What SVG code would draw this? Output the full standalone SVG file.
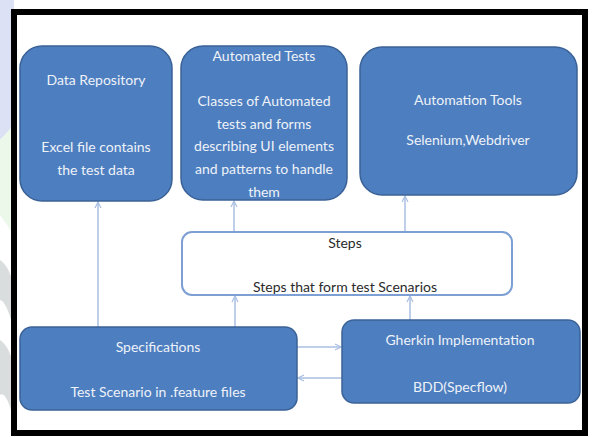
<svg xmlns="http://www.w3.org/2000/svg" width="592" height="437" viewBox="0 0 592 437">
  <defs>
    <style>
      .node { fill: #4d7ebf; stroke: #3b6297; stroke-width: 1.5; }
      .plain { fill: #ffffff; stroke: #7d9fd3; stroke-width: 2; }
      .lbl { font-family: Lato, "Noto Sans", sans-serif; font-size: 14px; fill: #eef2f9; text-anchor: middle; }
      .dark { fill: #2b2b2b; }
      .edge { stroke: #aabfe2; stroke-width: 1.5; fill: none; marker-end: url(#arrow); }
    </style>
    <marker id="arrow" viewBox="0 0 10 10" refX="9" refY="5" markerWidth="5" markerHeight="5" orient="auto">
      <path d="M1,1 L9,5 L1,9" fill="none" stroke="#aabfe2" stroke-width="1.6"/>
    </marker>
  </defs>

  <!-- page background with faint watermark shapes at the left margin -->
  <rect x="0" y="0" width="592" height="437" fill="#ffffff"/>
  <path d="M0,0 L14,0 L14,125 L0,140 Z" fill="#dde1f5"/>
  <path d="M0,140 L14,125 L14,235 L0,215 Z" fill="#ebf8ea"/>
  <path d="M0,260 Q14,270 14,300 L14,330 Q6,300 0,300 Z" fill="#d9dddd"/>
  <path d="M0,340 Q14,350 14,380 L14,420 Q6,390 0,395 Z" fill="#d9dddd"/>

  <!-- outer frame -->
  <rect x="14" y="12" width="571" height="421" fill="#ffffff" stroke="#000000" stroke-width="6"/>

  <!-- connectors -->
  <g id="connectors">
    <line class="edge" x1="98" y1="327" x2="98" y2="202"/>
    <line class="edge" x1="235" y1="327" x2="235" y2="296"/>
    <line class="edge" x1="234" y1="231" x2="234" y2="201"/>
    <line class="edge" x1="405" y1="231" x2="405" y2="196"/>
    <line class="edge" x1="410" y1="320" x2="410" y2="296"/>
    <line class="edge" x1="297" y1="347" x2="341" y2="347"/>
    <line class="edge" x1="342" y1="378" x2="298" y2="378"/>
  </g>

  <g id="data-repository">
    <rect class="node" x="20" y="46" width="152" height="155" rx="22"/>
    <text class="lbl" x="96" y="85">Data Repository</text>
    <text class="lbl" x="96" y="152">Excel file contains</text>
    <text class="lbl" x="96" y="175">the test data</text>
  </g>

  <g id="automated-tests">
    <rect class="node" x="181" y="46" width="166" height="154" rx="22"/>
    <text class="lbl" x="264" y="61">Automated Tests</text>
    <text class="lbl" x="264" y="106">Classes of Automated</text>
    <text class="lbl" x="264" y="129">tests and forms</text>
    <text class="lbl" x="264" y="151">describing UI elements</text>
    <text class="lbl" x="264" y="174">and patterns to handle</text>
    <text class="lbl" x="264" y="197">them</text>
  </g>

  <g id="automation-tools">
    <rect class="node" x="360" y="47" width="217" height="148" rx="22"/>
    <text class="lbl" x="468" y="105">Automation Tools</text>
    <text class="lbl" x="468" y="145">Selenium,Webdriver</text>
  </g>

  <g id="steps">
    <rect class="plain" x="182" y="232" width="330" height="63" rx="10"/>
    <text class="lbl dark" x="345" y="248">Steps</text>
    <text class="lbl dark" x="345" y="292">Steps that form test Scenarios</text>
  </g>

  <g id="specifications">
    <rect class="node" x="20" y="327" width="277" height="83" rx="12"/>
    <text class="lbl" x="158" y="352">Specifications</text>
    <text class="lbl" x="158" y="397">Test Scenario in .feature files</text>
  </g>

  <g id="gherkin-implementation">
    <rect class="node" x="342" y="320" width="238" height="83" rx="12"/>
    <text class="lbl" x="460" y="345">Gherkin Implementation</text>
    <text class="lbl" x="460" y="392">BDD(Specflow)</text>
  </g>
</svg>
